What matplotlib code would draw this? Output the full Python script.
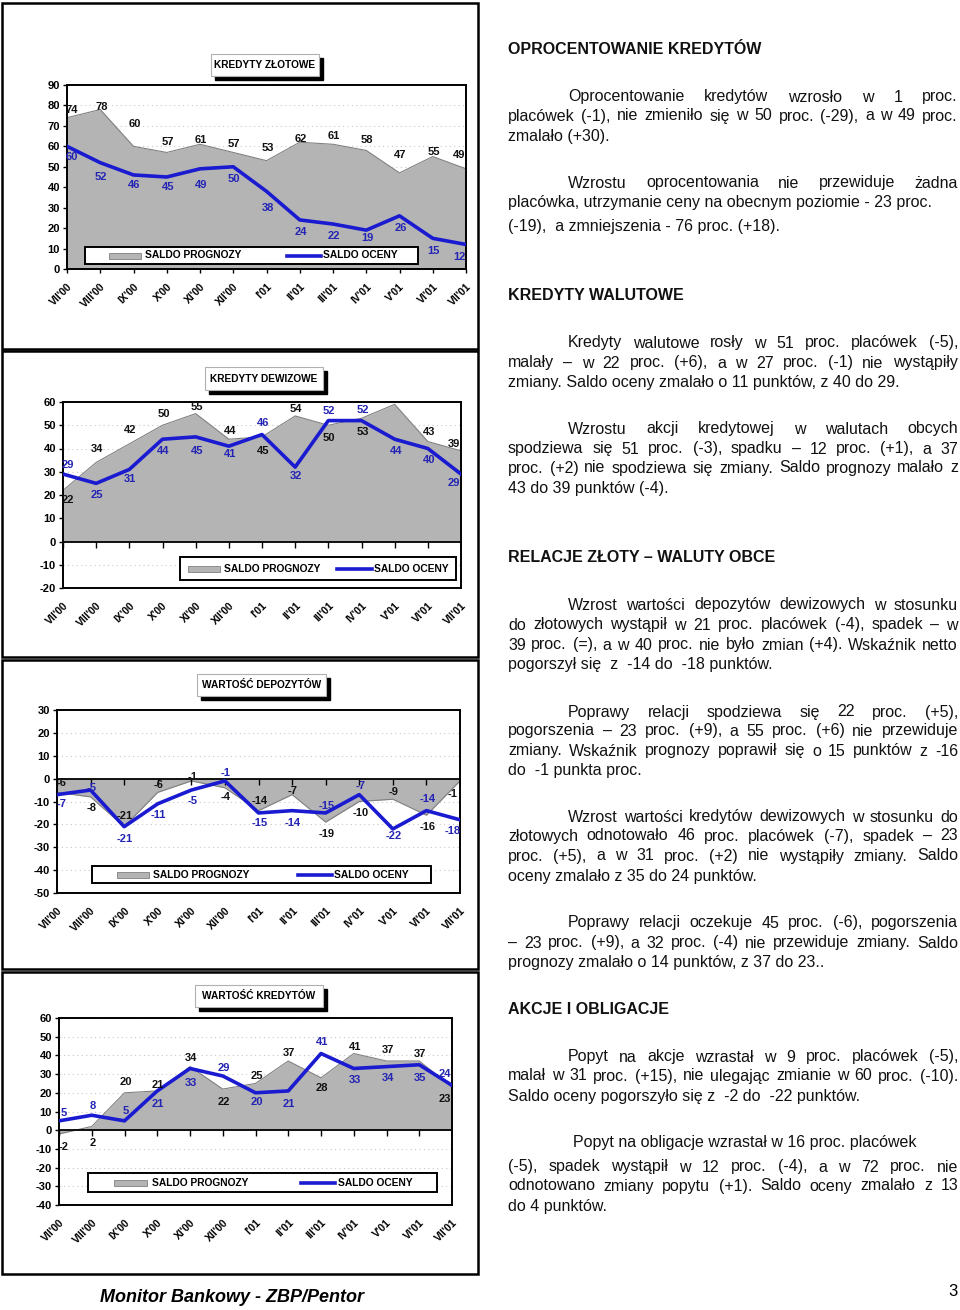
import matplotlib
matplotlib.use("Agg")
import matplotlib.pyplot as plt
from matplotlib.patches import Rectangle

plt.rcParams['font.family'] = ['Liberation Sans', 'DejaVu Sans']
plt.rcParams['axes.unicode_minus'] = False

# dane
months = ["VII'00", "VIII'00", "IX'00", "X'00", "XI'00", "XII'00", "I'01",
          "II'01", "III'01", "IV'01", "V'01", "VI'01", "VII'01"]

zlot_prog = [74, 78, 60, 57, 61, 57, 53, 62, 61, 58, 47, 55, 49]
zlot_ocen = [60, 52, 46, 45, 49, 50, 38, 24, 22, 19, 26, 15, 12]
dewiz_prog = [22, 34, 42, 50, 55, 44, 45, 54, 50, 53, 59, 43, 39]
dewiz_ocen = [29, 25, 31, 44, 45, 41, 46, 32, 52, 52, 44, 40, 29]
depoz_prog = [-6, -8, -21, -6, -1, -4, -14, -7, -19, -10, -9, -16, -1]
depoz_ocen = [-7, -5, -21, -11, -5, -1, -15, -14, -15, -7, -22, -14, -18]
kred_prog = [-2, 2, 20, 21, 34, 22, 25, 37, 28, 41, 37, 37, 23]
kred_ocen = [5, 8, 5, 21, 33, 29, 20, 21, 41, 33, 34, 35, 24]

titles = ["KREDYTY ZŁOTOWE", "KREDYTY DEWIZOWE", "WARTOŚĆ DEPOZYTÓW", "WARTOŚĆ KREDYTÓW"]

# przesuniecia etykiet (w jednostkach osi)
zlot_prog_off = [4, 1, 11, 5, 2, 4, 6, 1.5, 4, 5, 9, 2, 7]
zlot_ocen_off = [-5, -7, -5, -5, -8, -6, -8, -6, -6, -4, -6, -6, -6]
dewiz_prog_off = [-4, 6, 6, 5, 3, 3.5, -6, 3, -5.5, -6, 4, 4, 3]
dewiz_ocen_off = [4, -5, -4, -5, -6, -3.5, 5, -4, 4, 4.5, -5, -5, -4]
depoz_prog_off = [4.3, -5, 4.7, 3.2, 1.6, -4, 4.4, 1.6, -5, -5, 3, -5, -5.7]
depoz_ocen_off = [-4, 0.8, -5.5, -5, -5, 3.3, -4.2, -5.2, 3.1, 3.8, -3, 5, -5]
kred_prog_off = [-7, -9, 6, 3, 4.6, -7, 4, 4.3, -5.4, 3.5, 6, 3.7, -6.5]
kred_ocen_off = [4, 5, 5, -7, -8, 4.5, -5, -7, 6, -6, -6, -7, 6]

GRAY = '#b4b4b4'
BLUE = '#1a1ad0'
W, H = 960, 1310

fig = plt.figure(figsize=(9.6, 13.1), dpi=100)

page = fig.add_axes([0, 0, 1, 1], zorder=10)
page.set_xlim(0, W)
page.set_ylim(H, 0)
page.axis('off')
page.patch.set_alpha(0)


def px_rect(l, t, r, b):
    return [l / W, 1 - b / H, (r - l) / W, (b - t) / H]


charts = [
    dict(prog=zlot_prog, ocen=zlot_ocen, poff=zlot_prog_off, ooff=zlot_ocen_off,
         rect=(67, 85, 466, 269), ylim=(0, 90), frame=(2, 3, 478, 349),
         tbox=(211, 54, 319, 76), leg=(85, 247, 418, 264, 109, 141, 145, 287, 321, 323)),
    dict(prog=dewiz_prog, ocen=dewiz_ocen, poff=dewiz_prog_off, ooff=dewiz_ocen_off,
         rect=(63, 402, 461, 588), ylim=(-20, 60), frame=(2, 351, 478, 657),
         tbox=(205, 367, 323, 390), leg=(180, 557, 456, 580, 188, 220, 224, 337, 372, 374)),
    dict(prog=depoz_prog, ocen=depoz_ocen, poff=depoz_prog_off, ooff=depoz_ocen_off,
         rect=(57, 710, 460, 893), ylim=(-50, 30), frame=(2, 660, 478, 969),
         tbox=(197, 674, 326, 696), leg=(92, 866, 431, 883, 117, 149, 153, 298, 332, 334)),
    dict(prog=kred_prog, ocen=kred_ocen, poff=kred_prog_off, ooff=kred_ocen_off,
         rect=(59, 1018, 452, 1205), ylim=(-40, 60), frame=(2, 972, 478, 1274),
         tbox=(195, 985, 323, 1007), leg=(88, 1173, 437, 1192, 114, 147, 152, 301, 335, 338)),
]

x = list(range(len(months)))
lab_kw = dict(fontsize=8, fontweight='bold', ha='center', va='center', clip_on=False)

for title, c in zip(titles, charts):
    ax = fig.add_axes(px_rect(*c['rect']))
    lo, hi = c['ylim']
    ax.fill_between(x, 0, c['prog'], color=GRAY, lw=0, zorder=2)
    ax.plot(x, c['prog'], color='#808080', lw=0.8, zorder=2)
    ax.plot(x, c['ocen'], color=BLUE, lw=2.6, zorder=4, solid_joinstyle='round')
    ax.set_xlim(0, 12)
    ax.set_ylim(lo, hi)
    ax.set_yticks(range(lo, hi + 1, 10))
    ax.yaxis.grid(True, linestyle=(0, (1, 3)), color='#c8c8c8', lw=0.8, zorder=1)
    ax.set_axisbelow(True)
    for s in ax.spines.values():
        s.set_linewidth(1.4)
    ax.tick_params(axis='y', length=3, width=1, labelsize=8, pad=2)
    for t in ax.get_yticklabels():
        t.set_fontweight('bold')
    ax.set_xticks(x)
    ax.set_xticklabels(months, rotation=45, ha='right', va='top',
                       rotation_mode='anchor', fontsize=7.5, fontweight='bold')
    if lo < 0:
        ax.axhline(0, color='black', lw=1.3, zorder=3)
        ax.plot(x, [0] * len(x), ls='none', marker=3, ms=4, mew=1, color='black', zorder=3)
        ax.tick_params(axis='x', length=0, pad=9)
    else:
        ax.tick_params(axis='x', length=3, width=1, pad=6)

    n = len(x)
    for i in range(n):
        dx = 5 if i == 0 else (-7 if i == n - 1 else 1)
        ax.annotate(str(c['prog'][i]), (i, c['prog'][i] + c['poff'][i]),
                    xytext=(dx * 0.72, 0), textcoords='offset points',
                    color='#111111', zorder=6, **lab_kw)
        ax.annotate(str(c['ocen'][i]), (i, c['ocen'][i] + c['ooff'][i]),
                    xytext=(dx * 0.72, 0), textcoords='offset points',
                    color='#2424b4', zorder=6, **lab_kw)

    # ramka
    fx0, fy0, fx1, fy1 = c['frame']
    page.add_patch(Rectangle((fx0, fy0), fx1 - fx0, fy1 - fy0, fill=False,
                             edgecolor='black', lw=1.8))
    # tytul z cieniem
    tx0, ty0, tx1, ty1 = c['tbox']
    page.add_patch(Rectangle((tx0 + 4, ty0 + 4), tx1 - tx0, ty1 - ty0,
                             facecolor='black', edgecolor='black'))
    page.add_patch(Rectangle((tx0, ty0), tx1 - tx0, ty1 - ty0,
                             facecolor='white', edgecolor='#b0b0b0', lw=0.8))
    page.text((tx0 + tx1) / 2, (ty0 + ty1) / 2, title, ha='center', va='center',
              fontsize=7.3, fontweight='bold')
    # legenda
    lx0, ly0, lx1, ly1, p0, p1, t1, b0, b1, t2 = c['leg']
    cy = (ly0 + ly1) / 2
    page.add_patch(Rectangle((lx0, ly0), lx1 - lx0, ly1 - ly0, facecolor='white',
                             edgecolor='black', lw=1.4))
    page.add_patch(Rectangle((p0, cy - 3), p1 - p0, 6, facecolor=GRAY,
                             edgecolor='#808080', lw=0.6))
    page.text(t1, cy, 'SALDO PROGNOZY', va='center', fontsize=7.4, fontweight='bold')
    page.plot([b0, b1], [cy, cy], color=BLUE, lw=2.6)
    page.text(t2, cy, 'SALDO OCENY', va='center', fontsize=7.4, fontweight='bold')

# tekst po prawej
headings = [
    (49, "OPROCENTOWANIE KREDYTÓW"),
    (296, "KREDYTY WALUTOWE"),
    (558, "RELACJE ZŁOTY – WALUTY OBCE"),
    (1009, "AKCJE I OBLIGACJE"),
]

# (y, x poczatku, wyjustowana, tekst)
body_lines = [
    (97, 568, True, "Oprocentowanie kredytów wzrosło w 1 proc."),
    (116, 508, True, "placówek (-1),  nie zmieniło się w 50 proc. (-29), a w 49 proc."),
    (136, 508, False, "zmalało (+30)."),
    (183, 568, True, "Wzrostu oprocentowania nie przewiduje żadna"),
    (202, 508, False, "placówka, utrzymanie ceny na obecnym poziomie - 23 proc."),
    (226, 508, False, "(-19),  a zmniejszenia - 76 proc. (+18)."),
    (343, 568, True, "Kredyty walutowe rosły w 51 proc. placówek (-5),"),
    (363, 508, True, "malały – w 22 proc. (+6), a w 27 proc. (-1) nie wystąpiły"),
    (382, 508, False, "zmiany. Saldo oceny zmalało o 11 punktów, z 40 do 29."),
    (429, 568, True, "Wzrostu akcji kredytowej w walutach obcych"),
    (449, 508, True, "spodziewa się 51 proc. (-3), spadku – 12 proc. (+1), a 37"),
    (468, 508, True, "proc. (+2) nie spodziewa się zmiany. Saldo prognozy malało z"),
    (488, 508, False, "43 do 39 punktów (-4)."),
    (605, 568, True, "Wzrost wartości depozytów dewizowych w stosunku"),
    (625, 508, True, "do złotowych wystąpił w  21 proc. placówek (-4), spadek – w"),
    (645, 508, True, "39 proc. (=), a w 40 proc. nie było zmian (+4). Wskaźnik netto"),
    (665, 508, False, "pogorszył się  z  -14 do  -18 punktów."),
    (712, 568, True, "Poprawy relacji spodziewa się 22 proc. (+5),"),
    (731, 508, True, "pogorszenia  – 23 proc. (+9), a 55 proc. (+6) nie przewiduje"),
    (751, 508, True, "zmiany. Wskaźnik prognozy poprawił się o 15 punktów  z -16"),
    (770, 508, False, "do  -1 punkta proc."),
    (817, 568, True, "Wzrost wartości kredytów dewizowych w stosunku do"),
    (836, 508, True, "złotowych odnotowało 46 proc. placówek (-7), spadek – 23"),
    (856, 508, True, "proc. (+5), a w 31 proc. (+2) nie wystąpiły zmiany. Saldo"),
    (876, 508, False, "oceny zmalało z 35 do 24 punktów."),
    (923, 568, True, "Poprawy relacji oczekuje 45 proc. (-6), pogorszenia"),
    (943, 508, True, "– 23 proc. (+9), a 32 proc. (-4) nie przewiduje zmiany. Saldo"),
    (963, 508, False, "prognozy zmalało o 14 punktów, z 37 do 23.."),
    (1057, 568, True, "Popyt na akcje wzrastał w 9 proc. placówek (-5),"),
    (1076, 508, True, "malał w 31 proc. (+15), nie ulegając zmianie w 60 proc. (-10)."),
    (1096, 508, False, "Saldo oceny pogorszyło się z  -2 do  -22 punktów."),
    (1142, 573, False, "Popyt na obligacje wzrastał w 16 proc. placówek"),
    (1167, 508, True, "(-5), spadek wystąpił  w 12 proc.  (-4), a w 72 proc. nie"),
    (1186, 508, True, "odnotowano zmiany popytu (+1). Saldo oceny zmalało z 13"),
    (1206, 508, False, "do 4 punktów."),
]

body_kw = dict(fontsize=11.5, va='center', color='#111111')
renderer = fig.canvas.get_renderer()


def word_width(s):
    t = page.text(0, 0, s, **body_kw)
    w = t.get_window_extent(renderer).width
    t.remove()
    return w


for y, x0, just, s in body_lines:
    if not just:
        page.text(x0, y, s, **body_kw)
        continue
    words = s.split()
    widths = [word_width(wd) for wd in words]
    gap = (958 - x0 - sum(widths)) / (len(words) - 1)
    xx = x0
    for wd, ww in zip(words, widths):
        page.text(xx, y, wd, **body_kw)
        xx += ww + gap

for y, s in headings:
    page.text(508, y, s, fontsize=11.5, fontweight='bold', va='center', color='#111111')

page.text(100, 1298, "Monitor Bankowy - ZBP/Pentor", fontsize=13, fontweight='bold',
          style='italic', va='center')
page.text(958, 1292, "3", fontsize=12, ha='right', va='center')

fig.savefig('out.png', dpi=100)
